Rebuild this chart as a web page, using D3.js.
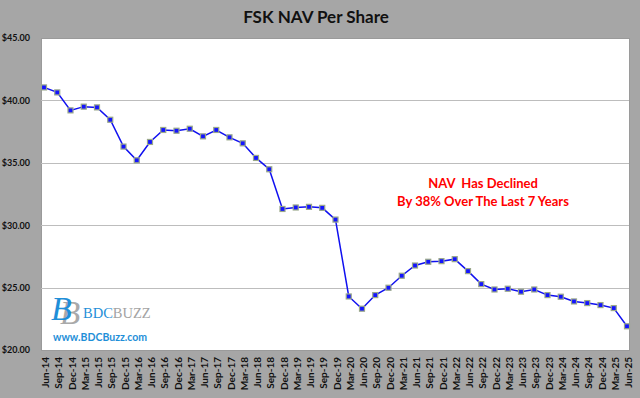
<!doctype html>
<html>
<head>
<meta charset="utf-8">
<title>FSK NAV Per Share</title>
<script src="https://cdn.jsdelivr.net/npm/d3@7/dist/d3.min.js"></script>
<style>
  body { margin: 0; background: #a6a6a6; }
  svg { display: block; }
</style>
</head>
<body>
<script>
// quarter labels and NAV per share values
var quarters = ["Jun-14","Sep-14","Dec-14",
  "Mar-15","Jun-15","Sep-15","Dec-15",
  "Mar-16","Jun-16","Sep-16","Dec-16",
  "Mar-17","Jun-17","Sep-17","Dec-17",
  "Mar-18","Jun-18","Sep-18","Dec-18",
  "Mar-19","Jun-19","Sep-19","Dec-19",
  "Mar-20","Jun-20","Sep-20","Dec-20",
  "Mar-21","Jun-21","Sep-21","Dec-21",
  "Mar-22","Jun-22","Sep-22","Dec-22",
  "Mar-23","Jun-23","Sep-23","Dec-23",
  "Mar-24","Jun-24","Sep-24","Dec-24",
  "Mar-25","Jun-25"];
var nav = [41.04, 40.64, 39.20,
  39.50, 39.44, 38.45, 36.30,
  35.20, 36.67, 37.63, 37.57,
  37.73, 37.12, 37.63, 37.04,
  36.56, 35.39, 34.48, 31.30,
  31.42, 31.47, 31.39, 30.45,
  24.29, 23.31, 24.40, 24.99,
  25.95, 26.77, 27.07, 27.12,
  27.28, 26.32, 25.28, 24.85,
  24.91, 24.67, 24.85, 24.40,
  24.27, 23.89, 23.76, 23.60,
  23.36, 21.90];
var yTicks = [20, 25, 30, 35, 40, 45];
var noteLines = ["NAV  Has Declined", "By 38% Over The Last 7 Years"];

var w = 640, h = 398;
// plot box (careful: "top" is taken by window.top)
var plotL = 41, plotR = 629, plotT = 38, plotB = 350;

var svg = d3.select("body").append("svg")
    .attr("width", w)
    .attr("height", h);

svg.append("rect")
    .attr("width", w).attr("height", h)
    .attr("fill", "#a6a6a6");

// title
svg.append("text")
    .attr("x", 316).attr("y", 23)
    .attr("text-anchor", "middle")
    .attr("font-family", "Lato, sans-serif")
    .attr("font-weight", "bold")
    .attr("font-size", "17px")
    .attr("fill", "#111")
    .text("FSK NAV Per Share");

var x = d3.scalePoint()
    .domain(quarters)
    .range([44, 627]);

var y = d3.scaleLinear()
    .domain([20, 45])
    .range([plotB, plotT]);

// plot area
svg.append("rect")
    .attr("x", plotL + 0.5).attr("y", plotT + 0.5)
    .attr("width", plotR - plotL).attr("height", plotB - plotT)
    .attr("fill", "#fff")
    .attr("stroke", "#9a9a9a")
    .attr("stroke-width", 1);

// gridlines
svg.append("g")
    .selectAll("line")
    .data(yTicks.filter(function(d){ return d > 20 && d < 45; }))
    .enter().append("line")
    .attr("x1", plotL).attr("x2", plotR)
    .attr("y1", function(d){ return Math.round(y(d)) + 0.5; })
    .attr("y2", function(d){ return Math.round(y(d)) + 0.5; })
    .attr("stroke", "#bdbdbd")
    .attr("stroke-width", 1);

// y axis
var yAxis = svg.append("g")
    .attr("transform", "translate(30,0)")
    .call(d3.axisLeft(y).tickValues(yTicks).tickSize(0).tickPadding(0)
        .tickFormat(function(d){ return "$" + d3.format(".2f")(d); }));
yAxis.select(".domain").remove();
yAxis.selectAll("text")
    .attr("font-family", "Lato, sans-serif")
    .attr("font-weight", "bold")
    .attr("font-size", "9px")
    .attr("fill", "#111");

// x axis
var xAxis = svg.append("g")
    .attr("transform", "translate(1," + 357 + ")")
    .call(d3.axisBottom(x).tickSize(0).tickPadding(0));
xAxis.select(".domain").remove();
xAxis.selectAll("text")
    .attr("transform", "rotate(-90)")
    .attr("text-anchor", "end")
    .attr("x", 0)
    .attr("y", 0)
    .attr("dy", "0.35em")
    .attr("font-family", "Lato, sans-serif")
    .attr("font-weight", "bold")
    .attr("font-size", "10px")
    .attr("fill", "#111");

// logo
var logo = svg.append("g");
logo.append("text")
    .attr("x", 60).attr("y", 324)
    .attr("font-family", "Liberation Serif, serif")
    .attr("font-style", "italic")
    .attr("font-size", "33px")
    .attr("fill", "#a9a9a9")
    .text("B");
logo.append("text")
    .attr("x", 51).attr("y", 320)
    .attr("font-family", "Liberation Serif, serif")
    .attr("font-style", "italic")
    .attr("font-size", "34px")
    .attr("fill", "#1f8fd8")
    .text("B");
var brand = logo.append("text")
    .attr("x", 83).attr("y", 318)
    .attr("font-family", "Liberation Serif, serif")
    .attr("font-size", "14.5px");
brand.append("tspan").attr("fill", "#1f8fd8").text("BDC");
brand.append("tspan").attr("fill", "#a3a3a3").text("BUZZ");
logo.append("text")
    .attr("x", 53).attr("y", 341)
    .attr("font-family", "Lato, sans-serif")
    .attr("font-weight", "bold")
    .attr("font-size", "10.5px")
    .attr("fill", "#1f8fd8")
    .text("www.BDCBuzz.com");

// note
svg.append("g")
    .selectAll("text")
    .data(noteLines)
    .enter().append("text")
    .attr("x", 483)
    .attr("y", function(d, i){ return 188 + i * 17.5; })
    .attr("text-anchor", "middle")
    .attr("font-family", "Lato, sans-serif")
    .attr("font-weight", "bold")
    .attr("font-size", "13px")
    .attr("fill", "#ff0000")
    .style("white-space", "pre")
    .text(function(d){ return d; });

// line
var line = d3.line()
    .x(function(d, i){ return x(quarters[i]); })
    .y(function(d){ return y(d); });

svg.append("path")
    .datum(nav)
    .attr("d", line)
    .attr("fill", "none")
    .attr("stroke", "#1010f0")
    .attr("stroke-width", 1.5);

// markers
svg.append("g")
    .selectAll("rect")
    .data(nav)
    .enter().append("rect")
    .attr("x", function(d, i){ return x(quarters[i]) - 2.5; })
    .attr("y", function(d){ return y(d) - 2.5; })
    .attr("width", 5)
    .attr("height", 5)
    .attr("fill", "#1414ff")
    .attr("stroke", "#9aa88a")
    .attr("stroke-width", 1.2);
</script>
</body>
</html>
